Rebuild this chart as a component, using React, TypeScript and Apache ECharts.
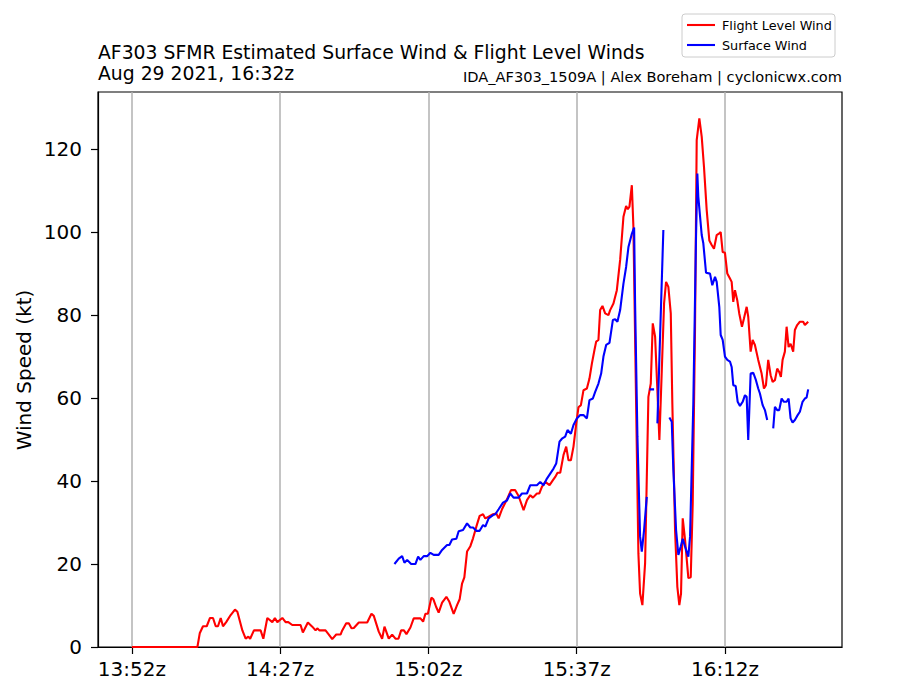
import { useEffect, useRef } from 'react';
import * as echarts from 'echarts';

// Time axis: minutes after 13:52z
const START_MINUTE = 13 * 60 + 52;
const xTickOffsets = [0, 35, 70, 105, 140];
const yTicks = [0, 20, 40, 60, 80, 100, 120];

const titleLine1 = 'AF303 SFMR Estimated Surface Wind & Flight Level Winds';
const titleLine2 = 'Aug 29 2021, 16:32z';
const creditText = 'IDA_AF303_1509A | Alex Boreham | cyclonicwx.com';
const yAxisTitle = 'Wind Speed (kt)';
const seriesNames = ['Flight Level Wind', 'Surface Wind'];
const seriesColors = ['#ff0000', '#0000ff'];

const flightTimes = [
  0, 15.48, 16.03, 16.8, 17.68, 18.45, 19.16, 19.8, 20.34, 20.98,
  21.52, 22.27, 23.33, 24.35, 24.91, 26.09, 26.87, 27.5, 27.93, 28.82,
  30.4, 31.04, 31.98, 33.16, 33.77, 34.34, 35.52, 36.29, 36.93, 37.87,
  39.83, 40.37, 41.55, 42.59, 43.37, 43.77, 44.31, 45.72, 46.5, 47.3,
  48.24, 49.26, 49.66, 50.6, 51.21, 51.85, 52.39, 53.57, 55.55, 56.56,
  57.11, 58.28, 59.08, 59.63, 60.64, 61.44, 62.22, 62.93, 63.56, 64.22,
  64.81, 65.75, 66.53, 68.11, 68.75, 69.29, 69.88, 70.7, 71.18, 71.81,
  72.42, 73.23, 74.24, 74.95, 75.96, 76.76, 77.37, 77.94, 78.48, 79.12,
  79.9, 80.53, 81.31, 82.09, 82.89, 83.43, 84.21, 85.25, 86.02, 86.57,
  87.37, 88.54, 89.49, 90.5, 91.28, 92.46, 93.26, 94.04, 94.67, 95.61,
  96.16, 96.79, 97.57, 98.59, 99.39, 99.93, 100.47, 101.11, 101.89, 102.52,
  103.06, 103.63, 104.24, 104.88, 105.42, 105.99, 106.6, 107.4, 108.01, 108.58,
  109.19, 109.59, 110.13, 110.53, 111.08, 111.71, 112.49, 112.89, 113.67, 114.47,
  115.25, 116.03, 116.66, 117.06, 117.44, 118.01, 118.38, 119.56, 119.96, 120.5,
  121.14, 121.92, 122.48, 122.95, 123.5, 124.04, 124.51, 125.08, 125.62, 126.09,
  126.63, 127.2, 127.57, 128.21, 128.75, 129.22, 129.62, 130.02, 130.57, 131.35,
  131.91, 132.38, 132.92, 133.32, 133.94, 134.5, 135.04, 135.68, 136.3, 136.86,
  137.4, 138.04, 138.65, 138.98, 139.45, 139.99, 140.54, 141.17, 141.57, 141.95,
  142.35, 142.89, 143.36, 144.0, 144.47, 145.11, 145.48, 146.05, 146.52, 147.06,
  147.84, 148.64, 149.19, 149.66, 150.2, 150.77, 151.24, 151.78, 152.32, 152.79,
  153.19, 153.59, 154.13, 154.54, 155.01, 155.48, 156.09, 156.49, 157.03, 157.67,
  158.45, 158.85, 159.63,
];

const flightValues = [
  0, 0, 3.3, 5, 5, 7, 7, 5, 5, 7,
  5, 6, 7.7, 9, 8.5, 4, 2, 2.5, 2, 4,
  4, 2, 7, 6, 7, 6, 7, 6, 6, 5.3,
  5.3, 3.5, 5.9, 4.9, 4, 4.5, 4, 4, 3, 1.9,
  3, 3, 4, 5.7, 5.7, 4.5, 4.6, 5.9, 5.9, 8,
  7.5, 3.7, 2, 4.9, 2, 3, 2, 2, 4, 4,
  3.1, 4.7, 6.9, 6.9, 6.1, 8, 8, 11.9, 11.5, 9.7,
  8.3, 10.7, 12.1, 10.9, 8, 10.1, 11.5, 15.3, 16.8, 23,
  24.3, 26.2, 29, 31.6, 32, 31, 31.4, 32, 32.2, 31,
  33.2, 35.6, 37.8, 37.8, 36.4, 33, 35.4, 36.6, 36, 37,
  37, 38.6, 39.8, 39, 40.2, 41, 42, 42, 46.3, 48.3,
  45, 45, 48.3, 53.8, 57.8, 58.3, 61.9, 62.3, 64.7, 68.3,
  71.6, 73.6, 74, 81.2, 82.2, 80.4, 80, 81.2, 82.8, 86,
  93.3, 103.7, 106.3, 105.5, 106.1, 111.3, 101.3, 22.5, 12.9, 10.1,
  20.2, 60.3, 63.5, 78, 74.8, 61.9, 49.9, 66.7, 82.8, 88,
  86.8, 80.4, 58.7, 28.2, 14.5, 10.1, 12.9, 31, 25.8, 16.6,
  16.8, 34.6, 76.4, 122.2, 127.4, 123, 115.7, 105.3, 98, 96.9,
  96, 99.3, 99.7, 100, 95.2, 95, 90, 88.8, 88, 83.2,
  86, 83.6, 80.4, 77.2, 79.2, 82, 79.6, 71.2, 74, 72.8,
  69.2, 65.9, 62.3, 63.1, 69.2, 65.5, 63.9, 64.3, 67.1, 66.3,
  65.1, 69.2, 71.2, 77.2, 72.3, 73.1, 71.2, 76.4, 77.6, 78.4,
  78.4, 77.6, 78.4,
];

// null = gap in the surface wind record
const surfaceTimes = [
  61.98, 63.0, 63.8, 64.34, 64.98, 65.92, 66.93, 67.57, 68.11, 68.89,
  69.69, 70.47, 71.25, 72.42, 73.23, 74.4, 74.95, 75.58, 76.6, 77.14,
  78.17, 79.12, 79.9, 80.53, 81.31, 82.09, 82.89, 83.43, 84.21, 85.25,
  85.79, 86.57, 87.6, 88.54, 89.32, 90.1, 91.28, 92.08, 93.26, 94.04,
  95.61, 96.39, 97.17, 97.97, 98.75, 99.53, 100.16, 100.94, 101.51, 102.28,
  102.83, 103.63, 104.24, 105.04, 105.82, 106.6, 107.4, 108.01, 108.81, 109.36,
  110.13, 110.77, 111.31, 111.95, 112.73, 113.53, 114.07, 114.61, 115.25, 116.03,
  116.66, 117.21, 118.01, 118.55, 118.78, 119.33, 119.96, 120.36, 120.9, 121.54,
  121.85, 122.15, 123.26, 123.65, 124.04, 125.45, 126.2,
  126.87, 127.43, 127.81, 128.45, 128.99, 129.55, 130.02, 130.57, 131.35, 131.75,
  132.52, 133.16, 133.47, 133.7, 134.5, 134.88, 135.52, 136.46, 137.0, 137.64,
  138.04, 138.65, 138.98, 139.45, 139.99, 140.54, 141.17, 141.57, 141.95, 142.52,
  142.99, 143.53, 144.17, 144.71, 145.11, 145.48, 146.05, 146.67, 147.3, 147.84,
  148.24, 148.88, 149.42, 149.96, 150.7,
  151.38, 151.78, 152.32, 152.79, 153.36, 153.9, 154.54, 155.01, 155.48, 155.95,
  156.49, 157.03, 157.67, 158.3, 158.85, 159.25, 159.63,
];

const surfaceValues: (number | null)[] = [
  20, 21.3, 21.9, 20.3, 21, 20, 20, 21.8, 21, 21.9,
  21.9, 22.7, 22.2, 22.2, 23.4, 24.6, 24.6, 25.9, 26.1, 27.9,
  28.2, 29.8, 28.8, 28.8, 28, 28, 29.4, 29, 31, 31.8,
  32, 33.2, 34.8, 35.3, 37, 36, 36, 37, 37, 39,
  39, 39.8, 39, 40.6, 41.8, 43, 44.2, 49.5, 50.2, 50.7,
  52.3, 51.4, 53.5, 55.1, 55.9, 55.9, 55.1, 59.5, 59.9, 61.5,
  63.5, 65.9, 70, 72.8, 73.3, 78.8, 79, 78.4, 81.2, 87.6,
  91.6, 96.4, 99.6, 101.1, 82.8, 50.7, 26.6, 23, 28.2, 36.2,
  null, 62.1, 62.1, null, 53.9, 100.5, null,
  55.3, 54.3, 42.7, 28.2, 22.2, 24.2, 26.1, 24.2, 21.8, 26.6,
  58.7, 98.9, 114.1, 108.5, 99.3, 97.3, 90.2, 90, 87.2, 89.2,
  88, 82, 75.2, 74, 70, 69.2, 68.8, 67.5, 63.1, 62.9,
  59.1, 58.1, 59.1, 60.7, 60.3, 49.9, 65.9, 66.1, 64.3, 62.3,
  61.1, 58.3, 57.1, 54.7, null,
  52.7, 57.9, 57.1, 57.1, 59.9, 59.1, 59.1, 59.9, 55.1, 54.1,
  54.7, 55.7, 56.7, 59.1, 59.9, 60.1, 62.1,
];

const FONT = '"DejaVu Sans", Verdana, sans-serif';

function formatZulu(offset: number): string {
  const total = Math.round(START_MINUTE + offset);
  const h = Math.floor(total / 60);
  const m = total % 60;
  return `${String(h).padStart(2, '0')}:${String(m).padStart(2, '0')}z`;
}

export default function App() {
  const ref = useRef<HTMLDivElement>(null);

  useEffect(() => {
    if (!ref.current) return;
    const chart = echarts.init(ref.current, undefined, { renderer: 'svg' });

    const flightData = flightTimes.map((t, i) => [t, flightValues[i]]);
    const surfaceData = surfaceTimes.map((t, i) => [t, surfaceValues[i] === null ? '-' : surfaceValues[i]]);

    const lastT = Math.max(flightTimes[flightTimes.length - 1], surfaceTimes[surfaceTimes.length - 1]);
    const xMargin = lastT * 0.05;
    const yMax = Math.max(...flightValues) * 1.05;

    // Hand-drawn legend box (matplotlib style)
    const legendX = 682;
    const legendY = 14;
    const legendItems = seriesNames.flatMap((name, i) => [
      {
        type: 'line',
        shape: { x1: legendX + 5, y1: legendY + 11 + i * 20, x2: legendX + 33, y2: legendY + 11 + i * 20 },
        style: { stroke: seriesColors[i], lineWidth: 2.1 },
        z: 101,
      },
      {
        type: 'text',
        x: legendX + 40,
        y: legendY + 11 + i * 20,
        style: { text: name, fontSize: 12.8, fontFamily: FONT, fill: '#000000', align: 'left', verticalAlign: 'middle' },
        z: 101,
      },
    ]);

    chart.setOption({
      animation: false,
      backgroundColor: '#ffffff',
      grid: {
        left: 98,
        right: 62,
        top: 92,
        bottom: 50,
        show: true,
        borderColor: '#000000',
        borderWidth: 1.2,
        containLabel: false,
      },
      xAxis: {
        type: 'value',
        min: -xMargin,
        max: lastT + xMargin,
        axisLine: { show: true, onZero: false, lineStyle: { color: '#000000', width: 1.2 } },
        axisTick: {
          show: true,
          length: 7,
          customValues: xTickOffsets,
          lineStyle: { color: '#000000', width: 1.2 },
        },
        axisLabel: {
          customValues: xTickOffsets,
          formatter: (v: number) => formatZulu(v),
          fontSize: 20,
          fontFamily: FONT,
          color: '#000000',
          margin: 12,
        },
        splitLine: { show: true, lineStyle: { color: '#b0b0b0', width: 1.5 } },
      },
      yAxis: {
        type: 'value',
        min: 0,
        max: yMax,
        axisLine: { show: true, onZero: false, lineStyle: { color: '#000000', width: 1.2 } },
        axisTick: {
          show: true,
          length: 7,
          customValues: yTicks,
          lineStyle: { color: '#000000', width: 1.2 },
        },
        axisLabel: {
          customValues: yTicks,
          fontSize: 20,
          fontFamily: FONT,
          color: '#000000',
          margin: 16,
        },
        splitLine: { show: false },
      },
      graphic: [
        {
          type: 'text',
          x: 98,
          y: 52,
          style: { text: titleLine1, fontSize: 18.8, fontFamily: FONT, fill: '#000000', align: 'left', verticalAlign: 'middle' },
        },
        {
          type: 'text',
          x: 98,
          y: 73.5,
          style: { text: titleLine2, fontSize: 18.8, fontFamily: FONT, fill: '#000000', align: 'left', verticalAlign: 'middle' },
        },
        {
          type: 'text',
          x: 842,
          y: 76,
          style: { text: creditText, fontSize: 14.6, fontFamily: FONT, fill: '#000000', align: 'right', verticalAlign: 'middle' },
        },
        {
          type: 'text',
          x: 24,
          y: 370,
          rotation: Math.PI / 2,
          style: { text: yAxisTitle, fontSize: 20, fontFamily: FONT, fill: '#000000', align: 'center', verticalAlign: 'middle' },
        },
        {
          type: 'rect',
          shape: { x: legendX, y: legendY, width: 153, height: 43, r: 3 },
          style: { fill: '#ffffff', stroke: '#cccccc', lineWidth: 1 },
          z: 100,
        },
        ...legendItems,
      ],
      series: [
        {
          name: seriesNames[0],
          type: 'line',
          data: flightData,
          showSymbol: false,
          symbol: 'none',
          lineStyle: { color: seriesColors[0], width: 2.1 },
          itemStyle: { color: seriesColors[0] },
          connectNulls: false,
        },
        {
          name: seriesNames[1],
          type: 'line',
          data: surfaceData,
          showSymbol: false,
          symbol: 'none',
          lineStyle: { color: seriesColors[1], width: 2.1 },
          itemStyle: { color: seriesColors[1] },
          connectNulls: false,
        },
      ],
    });

    return () => chart.dispose();
  }, []);

  return (
    <div
      ref={ref}
      style={{ position: 'fixed', left: 0, top: 0, width: 904, height: 697, background: '#ffffff' }}
    />
  );
}
